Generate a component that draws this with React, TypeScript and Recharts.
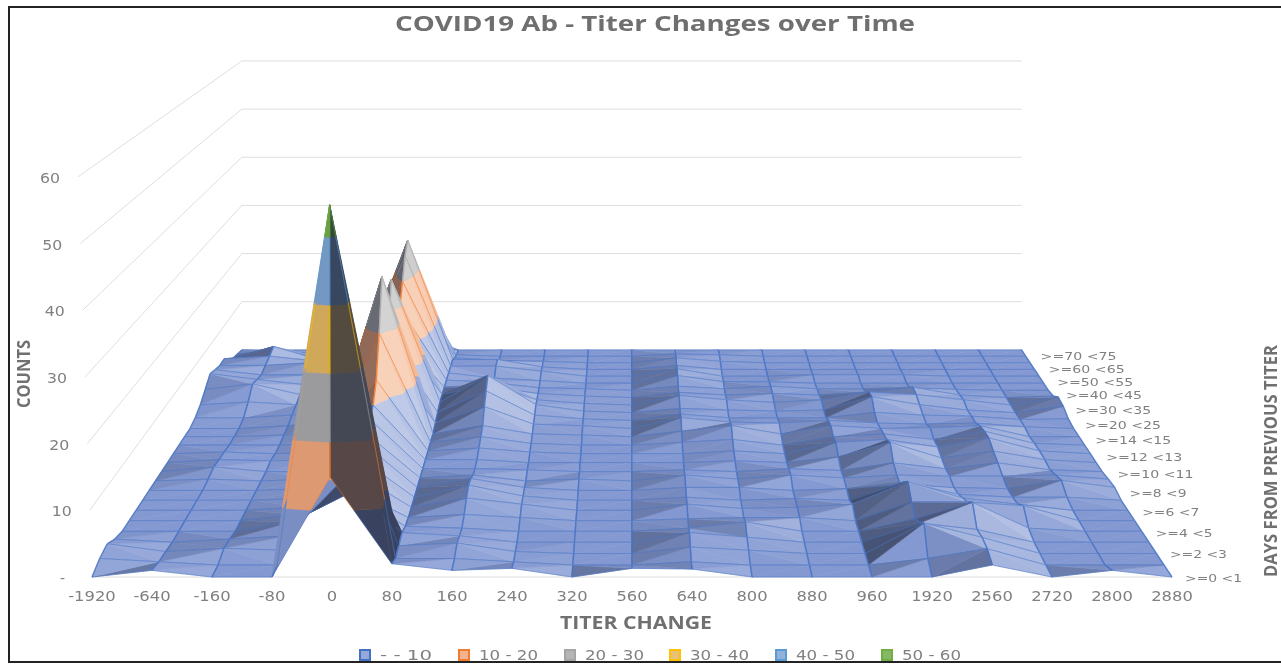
import { ScatterChart, Scatter, XAxis, YAxis } from 'recharts'

const titerChanges = ['-1920', '-640', '-160', '-80', '0', '80', '160', '240', '320', '560', '640', '800', '880', '960', '1920', '2560', '2720', '2800', '2880']
const dayLabels = ['>=0 <1', '>=2 <3', '>=4 <5', '>=6 <7', '>=8 <9', '>=10 <11', '>=12 <13', '>=14 <15', '>=20 <25', '>=30 <35', '>=40 <45', '>=50 <55', '>=60 <65', '>=70 <75']
const countTicks = [10, 20, 30, 40, 50, 60]
const bandNames = ['-  - 10', '10 - 20', '20 - 30', '30 - 40', '40 - 50', '50 - 60']

// one list per day bin, front of the surface first
const day0 = [0, 1, 0, 0, 15, 2, 1, 1.3, 0, 1.3, 1.2, 0, 0, 0, 0, 1.8, 0, 1, 0]
const day1 = [1, 0.5, 0, 0, 54.8, 1, 1, 0.5, 0, 0, 0.5, 0, 0, 0, 1, 2.5, 0, 0, 0]
const day2 = [1.5, 0.3, 0.8, 0.5, 24, 1.2, 1.6, 0.3, 0, 0, 1, 0.5, 0, 0, 4.7, 2.5, 0, 0, 0]
const day3 = [0.5, 0, 0.5, 1, 10, 1.5, 1, 0, 0, 0, 1.5, 0.8, 0, 0, 3, 2, 0, 0, 0]
const day4 = [0, 0, 0, 1.5, 6, 0.8, 0.5, 0, 0, 0, 0.5, 1.5, 0, 0, 2, 4.6, 0.5, 0, 0]
const day5 = [0, 0, 0, 1, 5, 0.5, 1, 0.5, 0, 0, 0.3, 0.5, 0.5, 0, 3, 3, 2.4, 0, 0]
const day6 = [0, 0, 0, 0.5, 6, 0.5, 2, 1, 0, 0, 1, 0.3, 0.5, 1, 4.7, 2, 1, 0, 0]
const day7 = [0, 0, 0, 0.3, 7, 0.5, 2.5, 0.7, 0, 0, 0.5, 0, 0.3, 0, 3, 1, 0.5, 0.5, 0]
const day8 = [0, 0, 0, 0.3, 8, 0.5, 2, 0.5, 0, 0, 0.5, 0.5, 0, 0.3, 1, 0.5, 0.3, 1.7, 0.5]
const day9 = [0, 0.3, 0, 0.3, 8, 0.5, 1, 0, 0.3, 0, 1, 0.3, 1, 0.5, 1, 0.8, 0.8, 1, 0.3]
const day10 = [0, 0.8, 0, 0, 9, 0.5, 0.5, 0.3, 0, 0, 0.3, 0, 0.5, 0.2, 1.5, 0.5, 1.5, 0.3, 0]
const day11 = [0, 0.5, 0.3, 0.5, 10, 0.5, 0.5, 0, 0, 0, 0, 0.3, 0, 1, 3.5, 0.8, 2, 0.5, 0]
const day12 = [0, 0.3, 0, 0.5, 13, 0.5, 1, 0.3, 0, 0, 0, 0.5, 0, 2, 2.5, 1.2, 2.8, 0.5, 0]
const day13 = [0, 0, 0, 0.5, 20, 0.5, 1.5, 0.3, 0, 0, 0.5, 1, 0, 1.5, 2, 1, 2.5, 0.3, 0]
const day14 = [0, 0, 0.3, 1, 29, 0.5, 2, 0.5, 0.3, 0, 1, 2, 0.5, 2, 1.5, 1.6, 2, 0, 0]
const day15to20 = [0, 0, 0.5, 1.5, 14, 1, 4, 0.8, 0.5, 0, 2, 1.2, 1, 1.5, 1, 0.8, 1, 0.3, 0]
const day20 = [0.5, 0.5, 1, 1.5, 15, 1.5, 5.5, 1, 0.3, 0, 1.2, 0.5, 0.5, 0.5, 1.5, 1, 0.8, 0.2, 0.3]
const day25 = [1.5, 2, 1.5, 2, 25, 2, 7, 1.5, 0.3, 0, 0.8, 0.5, 0.3, 0.5, 3, 1.5, 0.5, 0, 1.2]
const day30 = [3, 4, 2, 2.5, 14, 2, 4, 1, 0.3, 0, 1.8, 1, 0.5, 1, 2.5, 2, 1, 0, 1.5]
const day35 = [4.6, 3.5, 2.5, 3, 12, 2, 2, 0.8, 0.3, 0, 1, 0.5, 0.8, 0.5, 1, 2, 0.5, 0, 0.3]
const day40 = [4, 3, 3, 3, 16, 2, 1.5, 0.5, 0.3, 0, 0.8, 0.3, 0.8, 0.3, 0.3, 0.5, 0.2, 0, 0]
const day45 = [3.5, 3.5, 4, 3, 20, 2, 1, 0.5, 0, 0, 1.5, 0.3, 0.3, 0, 0, 0, 0, 0, 0]
const day50 = [3.5, 4, 3, 2.5, 24, 2, 2, 1, 0, 0, 1.5, 0, 0, 0.3, 0.3, 0.3, 0, 0, 0]
const day55 = [2, 4.6, 2, 1.5, 26, 2, 2, 0.5, 0, 0, 0.8, 0, 0, 0, 0, 0, 0, 0, 0]
const day60 = [1, 2.5, 1, 0.8, 18, 1, 0.5, 0.3, 0, 0, 1, 0.3, 0, 0, 0, 0, 0, 0, 0]
const day65 = [0.5, 1, 0.5, 0.3, 5, 0.3, 0, 0, 0, 0, 0.5, 0.3, 0, 0, 0, 0, 0, 0, 0]
const day70 = [0, 0, 0, 0, 0, 0, 0, 0, 0, 0, 0, 0, 0, 0, 0, 0, 0, 0, 0]
const dayRows = [day0, day1, day2, day3, day4, day5, day6, day7, day8, day9, day10, day11, day12, day13, day14, day15to20, day20, day25, day30, day35, day40, day45, day50, day55, day60, day65, day70]

const W = 1281
const H = 665
const lastRow = dayRows.length - 1
const lastCol = titerChanges.length - 1

const bandFill = ['#8499d2', '#f2a679', '#a8a8a8', '#e3b65e', '#7ea5d2', '#70ad47']
const bandStroke = ['#4472c4', '#ed7d31', '#a5a5a5', '#ffc000', '#5b9bd5', '#70ad47']
const legendX = [365, 464, 570, 675, 781, 887]

// perspective box: front edge, back edge and vanishing point
function project(col: number, row: number, z: number) {
  const t = row / lastRow
  const s = 1 / (1 + 0.385 * t)
  const fx = 92 + 60 * col + ((col - 9) / 9) * 0.233 * z * (1 - t)
  const fy = 577 - 6.67 * z
  return { x: 631 + s * (fx - 631), y: -240 + s * (fy + 240) }
}

type V = { c: number; r: number; z: number }

function clipZ(poly: V[], limit: number, keepAbove: boolean) {
  const out: V[] = []
  poly.forEach((a, k) => {
    const b = poly[(k + 1) % poly.length]
    const ina = keepAbove ? a.z >= limit : a.z <= limit
    const inb = keepAbove ? b.z >= limit : b.z <= limit
    if (ina) out.push(a)
    if (ina !== inb) {
      const u = (limit - a.z) / (b.z - a.z)
      out.push({ c: a.c + u * (b.c - a.c), r: a.r + u * (b.r - a.r), z: limit })
    }
  })
  return out
}

function mix(hex: string, to: number[], amount: number) {
  const n = parseInt(hex.slice(1), 16)
  const rgb = [(n >> 16) & 255, (n >> 8) & 255, n & 255]
  const m = rgb.map((v, i) => Math.round(v + (to[i] - v) * amount))
  return `rgb(${m[0]},${m[1]},${m[2]})`
}

function shadeOf(tri: V[]) {
  const [a, b, c] = tri
  const ux = (b.c - a.c) * 60, uy = (b.r - a.r) * 22, uz = (b.z - a.z) * 6.67
  const vx = (c.c - a.c) * 60, vy = (c.r - a.r) * 22, vz = (c.z - a.z) * 6.67
  let nx = uy * vz - uz * vy
  let ny = uz * vx - ux * vz
  let nz = ux * vy - uy * vx
  if (nz < 0) { nx = -nx; ny = -ny; nz = -nz }
  const len = Math.hypot(nx, ny, nz) || 1
  nx /= len; ny /= len
  const minCol = Math.min(a.c, b.c, c.c)
  const minRow = Math.min(a.r, b.r, c.r)
  // the tall front spike is lit from its left, unlike the rest of the surface
  if (minRow < 3 && minCol === 3) return -0.12
  if (minRow < 3 && minCol === 4) return -0.9
  return Math.tanh(nx * 3.5) * 0.8 + Math.tanh(-ny * 1.5) * 0.25
}

type Item = { x: number; y: number; pts: { x: number; y: number }[]; fill: string; stroke: string; w: number; o: number }

function makeItem(verts: V[], fill: string, stroke: string, w: number, o: number): Item {
  const pts = verts.map((v) => project(v.c, v.r, v.z))
  return {
    x: pts.reduce((s, p) => s + p.x, 0) / pts.length,
    y: pts.reduce((s, p) => s + p.y, 0) / pts.length,
    pts, fill, stroke, w, o,
  }
}

function addEdge(items: Item[], a: V, b: V, w: number, o: number) {
  bandFill.forEach((_, band) => {
    const lo = band * 10
    const hi = lo + 10
    if (Math.max(a.z, b.z) < lo || Math.min(a.z, b.z) > hi) return
    if (a.z === b.z && band > 0 && a.z === lo) return
    const at = (z: number): V => {
      const u = a.z === b.z ? 0 : (z - a.z) / (b.z - a.z)
      return { c: a.c + u * (b.c - a.c), r: a.r + u * (b.r - a.r), z }
    }
    const p = a.z < lo ? at(lo) : a.z > hi ? at(hi) : a
    const q = b.z < lo ? at(lo) : b.z > hi ? at(hi) : b
    items.push(makeItem([p, q], 'none', bandStroke[band], w, o))
  })
}

function buildSurface() {
  const items: Item[] = []
  const colOrder: number[] = []
  for (let k = 0; k < lastCol; k++) colOrder.push(k)
  colOrder.sort((a, b) => Math.abs(b + 0.5 - 9) - Math.abs(a + 0.5 - 9))
  for (let r = lastRow - 1; r >= 0; r--) {
    for (const c of colOrder) {
      const v00 = { c, r, z: dayRows[r][c] }
      const v10 = { c: c + 1, r, z: dayRows[r][c + 1] }
      const v01 = { c, r: r + 1, z: dayRows[r + 1][c] }
      const v11 = { c: c + 1, r: r + 1, z: dayRows[r + 1][c + 1] }
      const tris = Math.abs(v00.z - v11.z) >= Math.abs(v10.z - v01.z)
        ? [[v00, v10, v11], [v00, v11, v01]]
        : [[v00, v10, v01], [v10, v11, v01]]
      tris.forEach((tri) => {
        const shade = shadeOf(tri)
        bandFill.forEach((base, band) => {
          const lo = band * 10
          const poly = clipZ(clipZ(tri, lo, true), lo + 10, false)
          if (poly.length < 3) return
          const fill = shade < 0 ? mix(base, [28, 34, 52], -shade * 0.8) : mix(base, [255, 255, 255], shade * 0.5)
          items.push(makeItem(poly, fill, fill, 0.6, 1))
        })
      })
      addEdge(items, v01, v11, 0.9, 0.55)
      addEdge(items, v00, v10, 0.9, 0.55)
      addEdge(items, v00, v01, 1.4, 0.8)
      addEdge(items, v10, v11, 1.4, 0.8)
    }
  }
  return items
}

const surfaceItems = buildSurface()

function FacetShape(props: any) {
  const { cx, cy, payload } = props
  const pts = payload.pts
    .map((p: any) => `${cx + p.x - payload.x},${cy + p.y - payload.y}`)
    .join(' ')
  if (payload.pts.length === 2) {
    return <polyline points={pts} fill="none" stroke={payload.stroke} strokeWidth={payload.w} strokeOpacity={payload.o} />
  }
  return <polygon points={pts} fill={payload.fill} stroke={payload.stroke} strokeWidth={payload.w} />
}

function TextShape(props: any) {
  const { cx, cy, payload } = props
  const p = payload
  return (
    <text
      x={cx}
      y={cy}
      fill={p.color ?? '#808080'}
      fontFamily={p.font ?? '"DejaVu Sans"'}
      fontSize={p.size}
      fontWeight={p.weight ?? 400}
      textAnchor={p.anchor ?? 'middle'}
      dominantBaseline="central"
      textLength={p.len}
      lengthAdjust="spacingAndGlyphs"
      transform={p.rotate ? `rotate(${p.rotate} ${cx} ${cy})` : undefined}
    >
      {p.text}
    </text>
  )
}

function SwatchShape(props: any) {
  const { cx, cy, payload } = props
  return <rect x={cx - 5} y={cy - 5} width={10} height={10} fill={payload.fill} stroke={payload.stroke} strokeWidth={2} />
}

const noShape = () => <g />

const gridLines = countTicks.map((z) => [project(0, 0, z), project(0, lastRow, z), project(lastCol, lastRow, z)])
const baseLine = [project(0, 0, 0), project(lastCol, 0, 0)]

const xTickText = titerChanges.map((text, i) => ({
  x: project(i, 0, 0).x,
  y: 596,
  text,
  size: 14,
  len: text.replace('-', '').length * 10.4 + (text[0] === '-' ? 6 : 0),
}))
const yTickText = [
  ...countTicks.map((z) => {
    const p = project(0, 0, z)
    return { x: p.x - 18, y: p.y + 1, text: String(z), size: 14, len: 20, anchor: 'end' }
  }),
  { x: 65, y: 578, text: '-', size: 14, anchor: 'end' },
]
const dayText = dayLabels.map((text, i) => {
  const r = i * 2
  const p = project(lastCol, r, 0)
  return { x: p.x + 13 + (6 * r) / lastRow, y: p.y + 1 + (6 * r) / lastRow, text, size: 11, anchor: 'start', len: text.length * 9.5 }
})
const titleText = [
  { x: 655, y: 22, text: 'COVID19 Ab - Titer Changes over Time', size: 22, weight: 700, len: 520, color: '#6f6f6f', font: '"Open Sans"' },
  { x: 636, y: 622, text: 'TITER CHANGE', size: 17, weight: 700, len: 152, color: '#707070', font: '"Open Sans"' },
  { x: 23, y: 374, text: 'COUNTS', size: 17, weight: 700, len: 68, rotate: -90, color: '#707070', font: '"Open Sans"' },
  { x: 1270, y: 461, text: 'DAYS FROM PREVIOUS TITER', size: 17, weight: 700, len: 232, rotate: -90, color: '#707070', font: '"Open Sans"' },
]
const legendText = bandNames.map((text, i) => ({ x: legendX[i] + 15, y: 655, text, size: 14, anchor: 'start', len: i === 0 ? 52 : 59 }))
const legendSwatches = bandNames.map((_, i) => ({ x: legendX[i], y: 655, fill: mix(bandFill[i], [255, 255, 255], 0.15), stroke: bandStroke[i] }))

export default function App() {
  return (
    <div style={{ position: 'absolute', left: 0, top: 0, width: W, height: H, background: '#fff', overflow: 'hidden' }}>
      <div style={{ filter: 'blur(0.6px)' }}>
        <ScatterChart width={W} height={H} margin={{ top: 0, right: 0, bottom: 0, left: 0 }}>
          <XAxis type="number" dataKey="x" domain={[0, W]} hide />
          <YAxis type="number" dataKey="y" domain={[0, H]} reversed hide />
          {gridLines.map((line, i) => (
            <Scatter key={i} data={line} line={{ stroke: '#dedede', strokeWidth: 1 }} shape={noShape} isAnimationActive={false} />
          ))}
          <Scatter data={baseLine} line={{ stroke: '#dcdcdc', strokeWidth: 1 }} shape={noShape} isAnimationActive={false} />
          <Scatter data={surfaceItems} shape={FacetShape} isAnimationActive={false} />
          <Scatter data={xTickText} shape={TextShape} isAnimationActive={false} />
          <Scatter data={yTickText} shape={TextShape} isAnimationActive={false} />
          <Scatter data={dayText} shape={TextShape} isAnimationActive={false} />
          <Scatter data={titleText} shape={TextShape} isAnimationActive={false} />
          <Scatter data={legendSwatches} shape={SwatchShape} isAnimationActive={false} />
          <Scatter data={legendText} shape={TextShape} isAnimationActive={false} />
        </ScatterChart>
      </div>
      <div style={{ position: 'absolute', left: 8, top: 6, width: 1280, height: 657, border: '2px solid #222', boxSizing: 'border-box', pointerEvents: 'none' }} />
    </div>
  )
}
